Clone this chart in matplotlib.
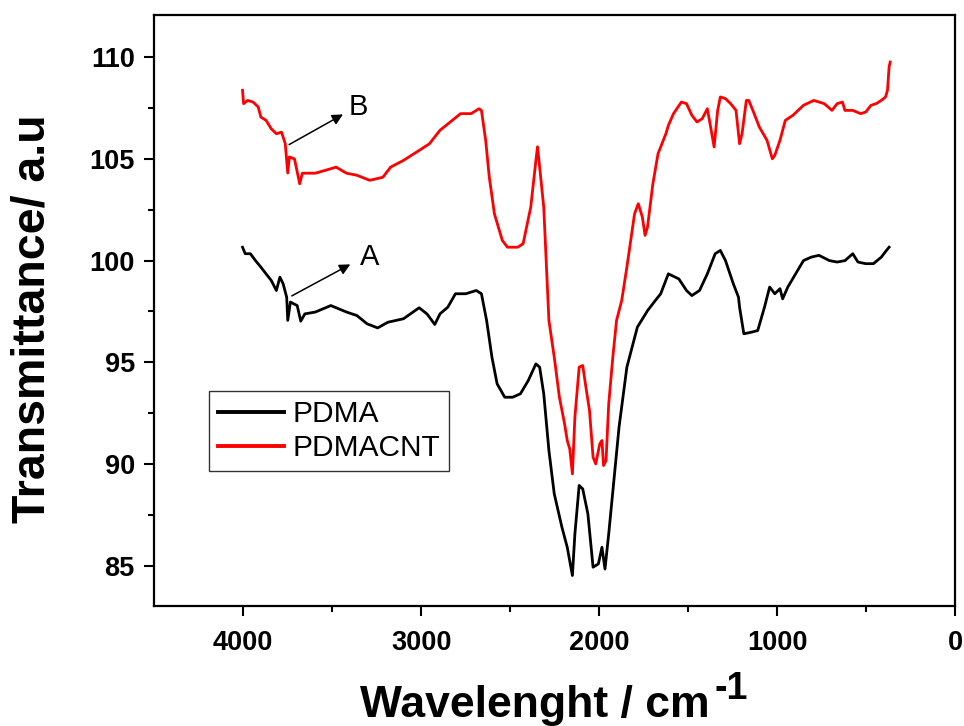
import matplotlib
matplotlib.use("Agg")
import matplotlib.pyplot as plt

plt.rcParams["font.family"] = ["Liberation Sans", "DejaVu Sans"]

# PDMA (black) spectrum
pdma_x = [4004, 3989, 3960, 3931, 3901, 3872, 3843, 3814, 3794, 3776, 3756, 3750,
          3735, 3697, 3677, 3654, 3595, 3508, 3420, 3362, 3304, 3245, 3187, 3100,
          3012, 2968, 2924, 2895, 2851, 2808, 2750, 2691, 2662, 2633, 2603, 2574,
          2531, 2487, 2443, 2399, 2356, 2335, 2312, 2283, 2253, 2210, 2180, 2151,
          2137, 2113, 2093, 2064, 2035, 2005, 1985, 1968, 1947, 1918, 1889, 1845,
          1786, 1728, 1685, 1655, 1612, 1553, 1510, 1480, 1437, 1393, 1349, 1320,
          1291, 1247, 1218, 1212, 1188, 1145, 1110, 1072, 1043, 1014, 985, 970,
          941, 897, 853, 810, 766, 707, 664, 620, 576, 547, 503, 460, 416, 387, 372]
pdma_y = [100.66, 100.34, 100.34, 100.0, 99.68, 99.35, 99.03, 98.53, 99.19, 98.86, 98.2, 97.06,
          97.96, 97.79, 97.02, 97.38, 97.47, 97.79, 97.47, 97.3, 96.89, 96.69, 96.97, 97.14,
          97.68, 97.38, 96.86, 97.38, 97.71, 98.37, 98.37, 98.53, 98.37, 97.06, 95.25, 93.94,
          93.28, 93.28, 93.45, 94.1, 94.92, 94.76, 93.45, 90.66, 88.53, 86.89, 85.9, 84.51,
          86.56, 88.94, 88.77, 87.54, 84.92, 85.08, 85.9, 84.83, 86.56, 89.18, 91.81, 94.76,
          96.73, 97.55, 98.04, 98.37, 99.35, 99.1, 98.53, 98.28, 98.53, 99.35, 100.34, 100.5,
          100.0, 98.86, 98.2, 97.71, 96.4, 96.48, 96.56, 97.71, 98.7, 98.37, 98.62, 98.12,
          98.7, 99.35, 100.0, 100.17, 100.26, 100.0, 99.93, 100.0, 100.34, 99.93, 99.85, 99.85,
          100.17, 100.5, 100.66]

# PDMACNT (red) spectrum
cnt_x = [4004, 3998, 3975, 3945, 3916, 3901, 3872, 3843, 3814, 3785, 3764, 3750,
         3741, 3712, 3683, 3668, 3595, 3508, 3479, 3420, 3362, 3289, 3216, 3172,
         3100, 3012, 2954, 2895, 2837, 2779, 2720, 2676, 2662, 2638, 2618, 2589,
         2545, 2516, 2458, 2428, 2385, 2356, 2347, 2335, 2312, 2283, 2253, 2224,
         2195, 2180, 2166, 2151, 2137, 2113, 2093, 2078, 2055, 2035, 2020, 1997,
         1985, 1976, 1962, 1947, 1924, 1903, 1874, 1845, 1802, 1781, 1758, 1743,
         1729, 1699, 1670, 1626, 1612, 1583, 1539, 1510, 1480, 1451, 1422, 1393,
         1378, 1355, 1335, 1320, 1291, 1262, 1232, 1212, 1198, 1174, 1160, 1130,
         1101, 1058, 1028, 1014, 985, 955, 912, 853, 795, 736, 693, 664,
         634, 620, 576, 532, 503, 474, 445, 416, 392, 381, 372, 366]
cnt_y = [108.38, 107.72, 107.88, 107.8, 107.56, 107.06, 106.9, 106.49, 106.24, 106.32, 105.75, 104.31,
         105.1, 105.0, 103.78, 104.3, 104.3, 104.52, 104.6, 104.3, 104.2, 103.95, 104.1, 104.6,
         104.93, 105.42, 105.75, 106.41, 106.82, 107.23, 107.23, 107.47, 107.39, 105.9, 104.11, 102.3,
         101.0, 100.66, 100.66, 100.83, 102.63, 104.93, 105.6, 104.6, 102.63, 97.06, 95.25, 93.28,
         91.97, 91.15, 90.74, 89.51, 92.3, 94.76, 94.84, 93.94, 92.63, 90.33, 90.0, 90.99,
         91.15, 89.92, 90.17, 92.96, 95.25, 97.06, 98.04, 99.68, 102.3, 102.8, 102.14, 101.24,
         101.65, 103.78, 105.26, 106.24, 106.65, 107.23, 107.8, 107.72, 107.15, 106.82, 106.98, 107.47,
         106.74, 105.59, 107.39, 108.05, 107.97, 107.72, 107.39, 105.75, 106.24, 107.88, 107.88, 107.23,
         106.57, 105.92, 105.01, 105.18, 105.92, 106.9, 107.15, 107.64, 107.88, 107.72, 107.39, 107.72,
         107.8, 107.39, 107.39, 107.23, 107.31, 107.64, 107.72, 107.88, 108.05, 108.38, 109.52, 109.77]

x_ticks = [4000, 3000, 2000, 1000, 0]
y_ticks = [85, 90, 95, 100, 105, 110]

fig = plt.figure(figsize=(9.64, 7.26), dpi=100)
ax = fig.add_axes([0.160, 0.165, 0.831, 0.814])

ax.plot(pdma_x, pdma_y, color="black", lw=2.0, label="PDMA")
ax.plot(cnt_x, cnt_y, color="red", lw=2.0, label="PDMACNT")

ax.set_xlim(4500, 0)
ax.set_ylim(83.0, 112.07)
ax.set_xticks(x_ticks)
ax.set_yticks(y_ticks)
ax.set_xticks([3500, 2500, 1500, 500], minor=True)
ax.set_yticks([87.5, 92.5, 97.5, 102.5, 107.5], minor=True)
ax.tick_params(which="major", direction="out", length=7, width=1.5, labelsize=19.5)
ax.tick_params(axis="x", which="major", pad=10)
ax.tick_params(axis="y", which="major", pad=7)
ax.tick_params(which="minor", direction="out", length=4, width=1.5)
for lbl in ax.get_xticklabels() + ax.get_yticklabels():
    lbl.set_fontweight("bold")
for sp in ax.spines.values():
    sp.set_linewidth(1.6)

ax.set_xlabel("Wavelenght / cm", fontsize=32, fontweight="bold")
ax.xaxis.set_label_coords(0.475, -0.134)
ax.set_ylabel("Transmittance/ a.u", fontsize=33.5, fontweight="bold")
ax.yaxis.set_label_coords(-0.125, 0.486)

# peak markers
ax.annotate("", xy=(3426, 107.26), xytext=(3756, 105.64),
            arrowprops=dict(arrowstyle="-|>", color="black", lw=1.1, mutation_scale=16))
ax.text(3406, 107.55, "B", fontsize=21, va="center", ha="left")
ax.annotate("", xy=(3385, 99.88), xytext=(3741, 98.2),
            arrowprops=dict(arrowstyle="-|>", color="black", lw=1.1, mutation_scale=16))
ax.text(3347, 100.17, "A", fontsize=21, va="center", ha="left")

leg = ax.legend(loc="upper left", bbox_to_anchor=(0.0687, 0.364), borderaxespad=0,
                fontsize=21.5, frameon=True, fancybox=False, handlelength=2.2,
                handletextpad=0.3, labelspacing=0.2, borderpad=0.3)
leg.get_frame().set_edgecolor("black")
leg.get_frame().set_linewidth(1.0)
for ln in leg.get_lines():
    ln.set_linewidth(2.8)

# superscript -1 after the x label, written with a plain hyphen
fig.canvas.draw()
bb = ax.xaxis.label.get_window_extent()
fig.text(bb.x1 + 5, bb.y0 + 0.21 * 32 * 100 / 72 + 18, "-1", fontsize=27,
         fontweight="bold", ha="left", va="baseline", transform=None)

fig.savefig("out.png", dpi=100)
